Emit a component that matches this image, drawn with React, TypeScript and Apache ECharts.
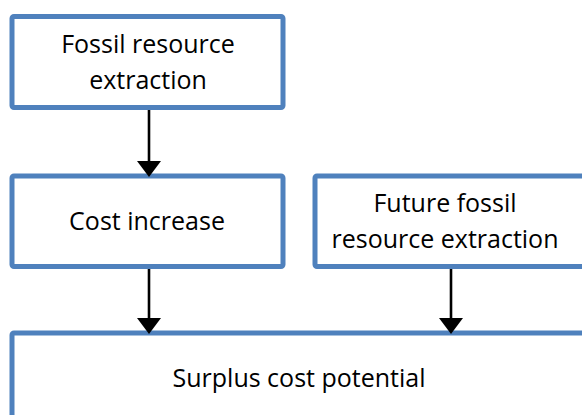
import React, { useEffect, useRef } from "react";
import * as echarts from "echarts";

const boxLabels: string[] = [
  "Fossil resource\nextraction",
  "Cost increase",
  "Future fossil\nresource extraction",
  "Surplus cost potential",
];

// links between boxes (from index -> to index)
const links: [number, number][] = [
  [0, 1],
  [1, 3],
  [2, 3],
];

const BORDER = "#4F81BD";

export default function App() {
  const ref = useRef<HTMLDivElement>(null);
  useEffect(() => {
    if (!ref.current) return;
    const chart = echarts.init(ref.current, undefined, { renderer: "svg", width: 582, height: 415 });

    // layout: x, y, w, h (border centre lines), text centre
    const layout = [
      { x: 12, y: 16.5, w: 271, h: 91, tx: 148, ty: 61 },
      { x: 12, y: 176, w: 271, h: 90.5, tx: 147, ty: 220 },
      { x: 315, y: 176, w: 272, h: 90.5, tx: 445, ty: 220 },
      { x: 12, y: 333, w: 575, h: 95, tx: 299, ty: 377 },
    ];
    const arrowX = [149, 149, 451];

    const elements: any[] = [];
    boxLabels.forEach((label, i) => {
      const b = layout[i];
      elements.push({
        type: "rect",
        shape: { x: b.x, y: b.y, width: b.w, height: b.h, r: 2 },
        style: { fill: "#ffffff", stroke: BORDER, lineWidth: 5 },
        z: 1,
      });
      elements.push({
        type: "text",
        x: b.tx,
        y: b.ty,
        style: {
          text: label,
          font: "25px 'Open Sans'",
          fill: "#000000",
          align: "center",
          verticalAlign: "middle",
          lineHeight: 36,
        },
        z: 3,
      });
    });
    links.forEach(([from, to], k) => {
      const a = layout[from];
      const b = layout[to];
      const x = arrowX[k];
      const y0 = a.y + a.h + 2.5;
      const tip = b.y + 1;
      const headH = 16;
      const headW = 24;
      elements.push({
        type: "line",
        shape: { x1: x, y1: y0, x2: x, y2: tip - headH + 1 },
        style: { stroke: "#000000", lineWidth: 2.6 },
        z: 2,
      });
      elements.push({
        type: "polygon",
        shape: {
          points: [
            [x - headW / 2, tip - headH],
            [x + headW / 2, tip - headH],
            [x, tip],
          ],
        },
        style: { fill: "#000000" },
        z: 4,
      });
    });

    chart.setOption({
      animation: false,
      backgroundColor: "#ffffff",
      graphic: { elements },
    });
    return () => chart.dispose();
  }, []);
  return (
    <div
      ref={ref}
      style={{ position: "fixed", left: 0, top: 0, width: 582, height: 415 }}
    />
  );
}
